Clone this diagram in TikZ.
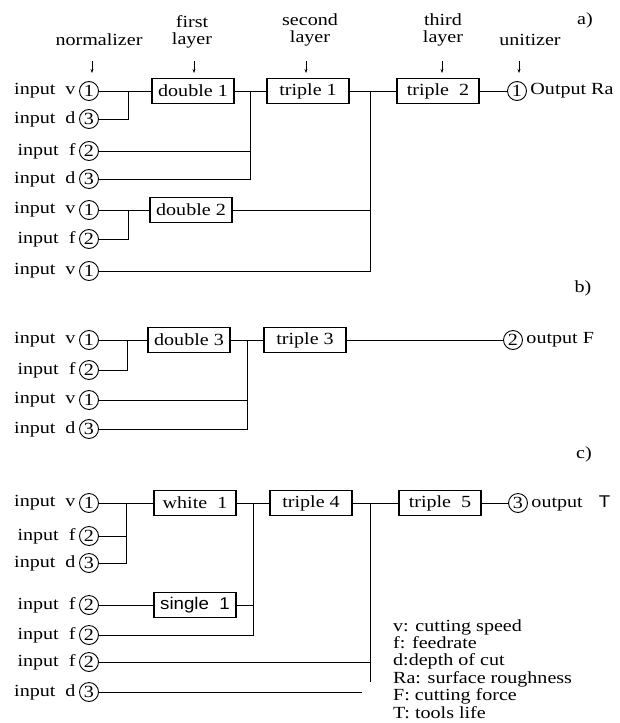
\documentclass[tikz,border=0pt]{standalone}
\usepackage{fontspec}
\setmainfont{Liberation Serif}[FakeStretch=1.18]
\setsansfont{Liberation Sans}[FakeStretch=1.1]
\usetikzlibrary{arrows.meta}
\tikzset{
    unit/.style={draw, circle, minimum size=19pt, inner sep=0pt, line width=0.9pt, label distance=5pt},
    layerbox/.style={draw, rectangle, minimum width=82pt, minimum height=25pt, inner sep=2pt, line width=1.1pt},
    wire/.style={line width=1pt},
    pointer/.style={line width=0.6pt, -{Stealth[length=4pt, width=3pt]}}
}
\begin{document}
\begin{tikzpicture}[x=1pt, y=-1pt, font=\fontsize{17}{17.4}\selectfont]
    \useasboundingbox (0,0) rectangle (620,723);

    % headings
    \node (hnorm) at (99,40) {normalizer};
    \node[align=center] (hfirst) at (192,32) {first\\layer};
    \node[align=center] (hsecond) at (310,30) {second\\layer};
    \node[align=center] (hthird) at (443,30) {third\\layer};
    \node (hunit) at (530,40) {unitizer};
    \foreach \x in {92,194,306,442,519}{
        \draw[pointer] (\x,61) -- (\x,73);
    }
    \node (parta) at (585,20) {a)};
    \node (partb) at (583,288) {b)};
    \node (partc) at (584,454) {c)};

    % a) surface roughness
    \foreach \row/\y/\var/\dig in {1/91/v/1, 2/119/d/3, 3/151/f/2, 4/179/d/3, 5/210/v/1, 6/239/f/2, 7/271/v/1}{
        \node[unit, label={left:input\ \ \var}] (a\row) at (89,\y) {\dig};
    }
    \node[layerbox] (double1) at (193,91) {double 1};
    \node[layerbox] (triple1) at (308,91) {triple 1};
    \node[layerbox] (triple2) at (438,91) {triple\ \ 2};
    \node[layerbox] (double2) at (191,210) {double 2};
    \node[unit, label distance=0pt, label={right:Output Ra}] (outa) at (517,91) {1};
    \coordinate (ja) at (128,91);
    \coordinate (jb) at (250,91);
    \coordinate (jc) at (370,91);
    \coordinate (jd) at (128,210);

    \draw[wire] (a1) -- (double1);
    \draw[wire] (a2) -| (ja);
    \draw[wire] (a3) -- (a3 -| jb);
    \draw[wire] (a4) -| (jb);
    \draw[wire] (double1) -- (triple1);
    \draw[wire] (a5) -- (double2);
    \draw[wire] (a6) -| (jd);
    \draw[wire] (double2) -- (double2 -| jc);
    \draw[wire] (a7) -| (jc);
    \draw[wire] (triple1) -- (triple2);
    \draw[wire] (triple2) -- (outa);

    % b) cutting force
    \foreach \row/\y/\var/\dig in {1/340/v/1, 2/370/f/2, 3/400/v/1, 4/429/d/3}{
        \node[unit, label={left:input\ \ \var}] (b\row) at (89,\y) {\dig};
    }
    \node[layerbox] (double3) at (189,340) {double 3};
    \node[layerbox] (triple3) at (305,340) {triple 3};
    \node[unit, label distance=2pt, label={right:output F}] (outb) at (513,340) {2};
    \coordinate (je) at (127,340);
    \coordinate (jf) at (247,340);

    \draw[wire] (b1) -- (double3);
    \draw[wire] (b2) -| (je);
    \draw[wire] (double3) -- (triple3);
    \draw[wire] (b3) -- (b3 -| jf);
    \draw[wire] (b4) -| (jf);
    \draw[wire] (triple3) -- (outb);

    % c) tool life
    \foreach \row/\y/\var/\dig in {1/503/v/1, 2/536/f/2, 3/563/d/3, 4/605/f/2, 5/635/f/2, 6/662/f/2, 7/692/d/3}{
        \node[unit, label={left:input\ \ \var}] (c\row) at (89,\y) {\dig};
    }
    \node[layerbox] (white1) at (195,503) {white\ \ 1};
    \node[layerbox, font=\fontsize{17}{17.4}\sffamily] (single1) at (195,605) {single\ \ 1};
    \node[layerbox] (triple4) at (311,503) {triple 4};
    \node[layerbox] (triple5) at (440,503) {triple\ \ 5};
    \node[unit, label distance=3pt, label={right:output\hspace{16pt}{\sffamily T}}] (outc) at (518,503) {3};
    \coordinate (jg) at (126,503);
    \coordinate (jh) at (253,503);
    \coordinate (ji) at (370,503);
    \coordinate (jk) at (370,682);
    \coordinate (jl) at (362,692);

    \draw[wire] (c1) -- (white1);
    \draw[wire] (c2) -- (c2 -| jg);
    \draw[wire] (c3) -| (jg);
    \draw[wire] (c4) -- (single1);
    \draw[wire] (single1) -- (single1 -| jh);
    \draw[wire] (c5) -| (jh);
    \draw[wire] (white1) -- (triple4);
    \draw[wire] (triple4) -- (triple5);
    \draw[wire] (ji) -- (jk);
    \draw[wire] (c6) -- (c6 -| ji);
    \draw[wire] (c7) -- (jl);
    \draw[wire] (triple5) -- (outc);

    % legend
    \node[anchor=north west, align=left, inner sep=0pt] (legend) at (393,619) {v: cutting speed\\f: feedrate\\d:depth of cut\\Ra: surface roughness\\F: cutting force\\T: tools life};
\end{tikzpicture}
\end{document}
